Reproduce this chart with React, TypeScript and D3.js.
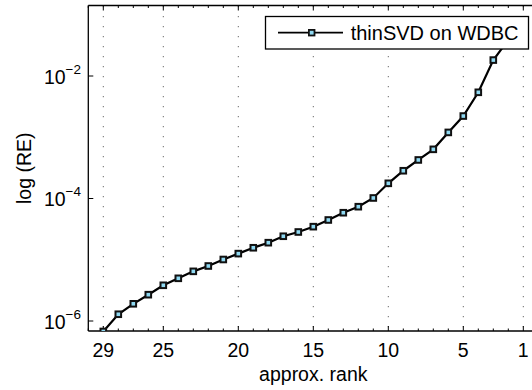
import React from "react";
import * as d3 from "d3";

const ranks = [29, 28, 27, 26, 25, 24, 23, 22, 21, 20, 19, 18, 17, 16, 15, 14, 13, 12, 11, 10, 9, 8, 7, 6, 5, 4, 3, 2, 1];
const relErr = [
  6.75e-7, 1.29e-6, 1.91e-6, 2.69e-6, 3.83e-6, 4.98e-6, 6.47e-6, 7.91e-6, 1.01e-5, 1.26e-5,
  1.57e-5, 1.9e-5, 2.42e-5, 2.84e-5, 3.47e-5, 4.46e-5, 5.86e-5, 7.35e-5, 1.02e-4, 1.77e-4,
  2.84e-4, 4.26e-4, 6.35e-4, 1.2e-3, 2.22e-3, 5.42e-3, 1.82e-2, 3.9e-2, 8e-2,
];
const xTicks = [29, 25, 20, 15, 10, 5, 1];
const yTickExps = [-6, -4, -2];
const seriesName = "thinSVD on WDBC";
const xLabel = "approx. rank";
const yLabel = "log (RE)";

const W = 532;
const H = 390;
const L = 88.3;
const R = 538.3;
const T = 5.5;
const B = 331;
const FONT = "'Liberation Sans', Arial, Helvetica, sans-serif";
const MARK_FILL = "#8fd9f2";

export default function App() {
  const x = d3.scaleLinear().domain([30, 0]).range([L, R]);
  const y = d3.scaleLog().domain([6.87e-7, 0.1416]).range([B, T]);
  const pts = ranks.map((r, i) => [x(r), y(relErr[i])] as [number, number]);
  const line = d3.line()(pts) || "";
  const minor = d3.range(0, 31).filter((v) => !xTicks.includes(v));

  return (
    <svg
      width={W}
      height={H}
      style={{ position: "fixed", left: 0, top: 0, background: "#fff" }}
      fontFamily={FONT}
    >
      <defs>
        <clipPath id="plot">
          <rect x={L} y={T} width={R - L} height={B - T} />
        </clipPath>
      </defs>
      <rect x={0} y={0} width={W} height={H} fill="#fff" />
      {/* grid */}
      {xTicks.map((t) => (
        <line
          key={"g" + t}
          x1={x(t)}
          x2={x(t)}
          y1={T}
          y2={B}
          stroke="#444"
          strokeWidth={1}
          strokeDasharray="1 9"
          strokeDashoffset={9.3}
        />
      ))}
      {/* axes lines */}
      <line x1={L} x2={R} y1={B} y2={B} stroke="#000" strokeWidth={1.3} />
      <line x1={L} x2={R} y1={T} y2={T} stroke="#000" strokeWidth={1.3} />
      <line x1={L} x2={L} y1={T} y2={B} stroke="#000" strokeWidth={1.3} />
      {/* x ticks */}
      {xTicks.map((t) => (
        <g key={"xt" + t}>
          <line x1={x(t)} x2={x(t)} y1={B} y2={B - 5} stroke="#000" strokeWidth={1} />
          <line x1={x(t)} x2={x(t)} y1={T} y2={T + 5} stroke="#000" strokeWidth={1} />
          <text x={x(t)} y={357} fontSize={19.5} textAnchor="middle" fill="#000">
            {t}
          </text>
        </g>
      ))}
      {minor.map((t) => (
        <g key={"mt" + t}>
          <line x1={x(t)} x2={x(t)} y1={B} y2={B - 2.5} stroke="#000" strokeWidth={1} />
          <line x1={x(t)} x2={x(t)} y1={T} y2={T + 2.5} stroke="#000" strokeWidth={1} />
        </g>
      ))}
      {/* y ticks */}
      {yTickExps.map((e) => {
        const yy = y(Math.pow(10, e));
        return (
          <g key={"yt" + e}>
            <line x1={L} x2={L + 5} y1={yy} y2={yy} stroke="#000" strokeWidth={1} />
            <text x={81} y={yy + 7.5} fontSize={19.5} textAnchor="end" fill="#000">
              <tspan>10</tspan>
              <tspan fontSize={13.5} dy={-10}>
                {"\u2212" + Math.abs(e)}
              </tspan>
            </text>
          </g>
        );
      })}
      {/* data */}
      <g clipPath="url(#plot)">
        <path d={line} fill="none" stroke="#000" strokeWidth={2.2} />
        {pts.map(([px, py], i) => (
          <rect
            key={"m" + i}
            x={px - 2.8}
            y={py - 2.8}
            width={5.6}
            height={5.6}
            fill={MARK_FILL}
            stroke="#111"
            strokeWidth={2}
          />
        ))}
      </g>
      {/* labels */}
      <text x={313.3} y={381} fontSize={19.5} textAnchor="middle" fill="#000">
        {xLabel}
      </text>
      <text
        transform={`translate(31,${(T + B) / 2}) rotate(-90)`}
        fontSize={19.5}
        textAnchor="middle"
        fill="#000"
      >
        {yLabel}
      </text>
      {/* legend */}
      <g>
        <rect x={265.5} y={16.5} width={263} height={32.5} fill="#fff" stroke="#000" strokeWidth={1.3} />
        <line x1={278} x2={343} y1={32.7} y2={32.7} stroke="#000" strokeWidth={1.8} />
        <rect x={308.9} y={29.9} width={5.6} height={5.6} fill={MARK_FILL} stroke="#111" strokeWidth={1.8} />
        <text x={350.7} y={40} fontSize={20} fill="#000">
          {seriesName}
        </text>
      </g>
    </svg>
  );
}
